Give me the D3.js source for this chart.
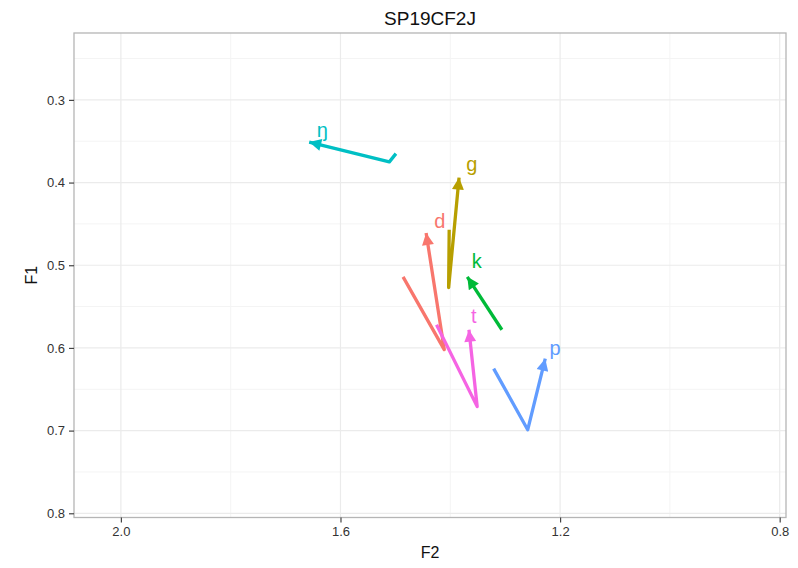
<!DOCTYPE html>
<html>
<head>
<meta charset="utf-8">
<script src="https://cdn.jsdelivr.net/npm/d3@7"></script>
<style>
  body { margin: 0; background: #fff; }
  svg { display: block; font-family: "Liberation Sans", Arial, sans-serif; }
</style>
</head>
<body>
<svg id="chart" width="798" height="568"></svg>
<script>
// Phone labels and their colours
const phones = ["d", "g", "k", "ŋ", "p", "t"];
const colors = ["#F8766D", "#B79F00", "#00BA38", "#00BFC4", "#619CFF", "#F564E3"];

// Formant trajectories (F2, F1) for each phone; the last point gets the arrowhead
const trajF2 = [
  [1.486, 1.411, 1.444],
  [1.402, 1.403, 1.384],
  [1.306, 1.369],
  [1.499, 1.511, 1.657],
  [1.321, 1.259, 1.227],
  [1.425, 1.351, 1.366]
];
const trajF1 = [
  [0.514, 0.602, 0.461],
  [0.457, 0.527, 0.394],
  [0.578, 0.514],
  [0.365, 0.375, 0.351],
  [0.625, 0.699, 0.613],
  [0.572, 0.671, 0.578]
];
// Where each phone label sits (F2, F1)
const labelF2 = [1.419, 1.361, 1.352, 1.633, 1.209, 1.357];
const labelF1 = [0.446, 0.378, 0.495, 0.337, 0.600, 0.561];

// Axis settings
const xTicks = [2.0, 1.6, 1.2, 0.8];
const xMinor = [1.8, 1.4, 1.0];
const yTicks = [0.3, 0.4, 0.5, 0.6, 0.7, 0.8];
const yMinor = [0.25, 0.35, 0.45, 0.55, 0.65, 0.75];
const xDomain = [2.0854, 0.7885];
const yDomain = [0.2191, 0.8051];

const svg = d3.select("#chart");
const panel = { left: 74, top: 33, right: 786, bottom: 517.5 };

const x = d3.scaleLinear().domain(xDomain).range([panel.left, panel.right]);
const y = d3.scaleLinear().domain(yDomain).range([panel.top, panel.bottom]);

// Panel background
svg.append("rect")
  .attr("x", panel.left).attr("y", panel.top)
  .attr("width", panel.right - panel.left).attr("height", panel.bottom - panel.top)
  .attr("fill", "#fff");

// Minor grid
const grid = svg.append("g");
grid.selectAll(".vmin").data(xMinor).join("line")
  .attr("x1", d => x(d)).attr("x2", d => x(d))
  .attr("y1", panel.top).attr("y2", panel.bottom)
  .attr("stroke", "#f4f4f4").attr("stroke-width", 1);
grid.selectAll(".hmin").data(yMinor).join("line")
  .attr("y1", d => y(d)).attr("y2", d => y(d))
  .attr("x1", panel.left).attr("x2", panel.right)
  .attr("stroke", "#f4f4f4").attr("stroke-width", 1);
// Major grid
grid.selectAll(".vmaj").data(xTicks).join("line")
  .attr("x1", d => x(d)).attr("x2", d => x(d))
  .attr("y1", panel.top).attr("y2", panel.bottom)
  .attr("stroke", "#ebebeb").attr("stroke-width", 1.2);
grid.selectAll(".hmaj").data(yTicks).join("line")
  .attr("y1", d => y(d)).attr("y2", d => y(d))
  .attr("x1", panel.left).attr("x2", panel.right)
  .attr("stroke", "#ebebeb").attr("stroke-width", 1.2);

// Arrowhead markers, one per colour
const defs = svg.append("defs");
phones.forEach((p, i) => {
  defs.append("marker")
    .attr("id", "arrow" + i)
    .attr("viewBox", "0 0 10 10")
    .attr("refX", 10).attr("refY", 5)
    .attr("markerUnits", "userSpaceOnUse")
    .attr("markerWidth", 15).attr("markerHeight", 12)
    .attr("orient", "auto")
    .append("path")
    .attr("d", "M0,0 L10,5 L0,10 Z")
    .attr("fill", colors[i]);
});

// Trajectories
const line = d3.line().x(d => x(d[0])).y(d => y(d[1]));
const series = phones.map((p, i) => trajF2[i].map((v, j) => [v, trajF1[i][j]]));
svg.append("g").selectAll("path").data(series).join("path")
  .attr("d", d => line(d))
  .attr("fill", "none")
  .attr("stroke", (d, i) => colors[i])
  .attr("stroke-width", 3.3)
  .attr("stroke-linejoin", "round")
  .attr("marker-end", (d, i) => `url(#arrow${i})`);

// Phone labels
svg.append("g").selectAll("text").data(phones).join("text")
  .attr("x", (d, i) => x(labelF2[i]))
  .attr("y", (d, i) => y(labelF1[i]))
  .attr("text-anchor", "middle")
  .attr("dominant-baseline", "central")
  .attr("font-size", 20)
  .attr("fill", (d, i) => colors[i])
  .text(d => d);

// Panel border
svg.append("rect")
  .attr("x", panel.left).attr("y", panel.top)
  .attr("width", panel.right - panel.left).attr("height", panel.bottom - panel.top)
  .attr("fill", "none").attr("stroke", "#b5b5b5").attr("stroke-width", 1.3);

// Axes
const xAxis = svg.append("g")
  .attr("transform", `translate(0,${panel.bottom})`)
  .call(d3.axisBottom(x).tickValues(xTicks).tickFormat(d3.format(".1f")).tickSize(5).tickPadding(4));
const yAxis = svg.append("g")
  .attr("transform", `translate(${panel.left},0)`)
  .call(d3.axisLeft(y).tickValues(yTicks).tickFormat(d3.format(".1f")).tickSize(5).tickPadding(4));
[xAxis, yAxis].forEach(a => {
  a.select(".domain").remove();
  a.selectAll(".tick line").attr("stroke", "#444").attr("stroke-width", 1.2);
  a.selectAll(".tick text").attr("fill", "#333").attr("font-size", 13)
    .attr("font-family", "Liberation Sans, Arial, sans-serif");
});

// Titles
svg.append("text")
  .attr("x", (panel.left + panel.right) / 2).attr("y", 25)
  .attr("text-anchor", "middle").attr("font-size", 19).attr("fill", "#111")
  .text("SP19CF2J");
svg.append("text")
  .attr("x", (panel.left + panel.right) / 2).attr("y", 558)
  .attr("text-anchor", "middle").attr("font-size", 16).attr("fill", "#111")
  .text("F2");
svg.append("text")
  .attr("transform", `translate(37,${(panel.top + panel.bottom) / 2}) rotate(-90)`)
  .attr("text-anchor", "middle").attr("font-size", 16).attr("fill", "#111")
  .text("F1");
</script>
</body>
</html>
